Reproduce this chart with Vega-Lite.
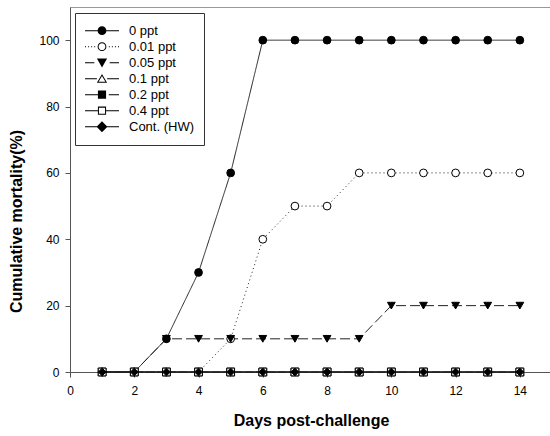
{
  "$schema": "https://vega.github.io/schema/vega-lite/v6.json",
  "autosize": "none",
  "padding": {"left": 70, "top": 7, "right": 0, "bottom": 64},
  "width": 482,
  "height": 365,
  "background": "white",
  "config": {
    "font": "Liberation Sans",
    "view": {"stroke": "#999999", "strokeWidth": 1},
    "axis": {"grid": false, "domainColor": "#555555", "tickColor": "#555555", "labelColor": "black", "titleColor": "black", "labelFont": "Liberation Sans", "titleFont": "Liberation Sans", "labelFontSize": 12, "titleFontSize": 16, "titleFontWeight": "bold", "tickSize": 5}
  },
  "data": {"values": [
    {"day":1,"group":"0 ppt","mortality":0},{"day":2,"group":"0 ppt","mortality":0},{"day":3,"group":"0 ppt","mortality":10},{"day":4,"group":"0 ppt","mortality":30},{"day":5,"group":"0 ppt","mortality":60},{"day":6,"group":"0 ppt","mortality":100},{"day":7,"group":"0 ppt","mortality":100},{"day":8,"group":"0 ppt","mortality":100},{"day":9,"group":"0 ppt","mortality":100},{"day":10,"group":"0 ppt","mortality":100},{"day":11,"group":"0 ppt","mortality":100},{"day":12,"group":"0 ppt","mortality":100},{"day":13,"group":"0 ppt","mortality":100},{"day":14,"group":"0 ppt","mortality":100},
    {"day":1,"group":"0.01 ppt","mortality":0},{"day":2,"group":"0.01 ppt","mortality":0},{"day":3,"group":"0.01 ppt","mortality":0},{"day":4,"group":"0.01 ppt","mortality":0},{"day":5,"group":"0.01 ppt","mortality":10},{"day":6,"group":"0.01 ppt","mortality":40},{"day":7,"group":"0.01 ppt","mortality":50},{"day":8,"group":"0.01 ppt","mortality":50},{"day":9,"group":"0.01 ppt","mortality":60},{"day":10,"group":"0.01 ppt","mortality":60},{"day":11,"group":"0.01 ppt","mortality":60},{"day":12,"group":"0.01 ppt","mortality":60},{"day":13,"group":"0.01 ppt","mortality":60},{"day":14,"group":"0.01 ppt","mortality":60},
    {"day":1,"group":"0.05 ppt","mortality":0},{"day":2,"group":"0.05 ppt","mortality":0},{"day":3,"group":"0.05 ppt","mortality":10},{"day":4,"group":"0.05 ppt","mortality":10},{"day":5,"group":"0.05 ppt","mortality":10},{"day":6,"group":"0.05 ppt","mortality":10},{"day":7,"group":"0.05 ppt","mortality":10},{"day":8,"group":"0.05 ppt","mortality":10},{"day":9,"group":"0.05 ppt","mortality":10},{"day":10,"group":"0.05 ppt","mortality":20},{"day":11,"group":"0.05 ppt","mortality":20},{"day":12,"group":"0.05 ppt","mortality":20},{"day":13,"group":"0.05 ppt","mortality":20},{"day":14,"group":"0.05 ppt","mortality":20},
    {"day":1,"group":"0.1 ppt","mortality":0},{"day":2,"group":"0.1 ppt","mortality":0},{"day":3,"group":"0.1 ppt","mortality":0},{"day":4,"group":"0.1 ppt","mortality":0},{"day":5,"group":"0.1 ppt","mortality":0},{"day":6,"group":"0.1 ppt","mortality":0},{"day":7,"group":"0.1 ppt","mortality":0},{"day":8,"group":"0.1 ppt","mortality":0},{"day":9,"group":"0.1 ppt","mortality":0},{"day":10,"group":"0.1 ppt","mortality":0},{"day":11,"group":"0.1 ppt","mortality":0},{"day":12,"group":"0.1 ppt","mortality":0},{"day":13,"group":"0.1 ppt","mortality":0},{"day":14,"group":"0.1 ppt","mortality":0},
    {"day":1,"group":"0.2 ppt","mortality":0},{"day":2,"group":"0.2 ppt","mortality":0},{"day":3,"group":"0.2 ppt","mortality":0},{"day":4,"group":"0.2 ppt","mortality":0},{"day":5,"group":"0.2 ppt","mortality":0},{"day":6,"group":"0.2 ppt","mortality":0},{"day":7,"group":"0.2 ppt","mortality":0},{"day":8,"group":"0.2 ppt","mortality":0},{"day":9,"group":"0.2 ppt","mortality":0},{"day":10,"group":"0.2 ppt","mortality":0},{"day":11,"group":"0.2 ppt","mortality":0},{"day":12,"group":"0.2 ppt","mortality":0},{"day":13,"group":"0.2 ppt","mortality":0},{"day":14,"group":"0.2 ppt","mortality":0},
    {"day":1,"group":"0.4 ppt","mortality":0},{"day":2,"group":"0.4 ppt","mortality":0},{"day":3,"group":"0.4 ppt","mortality":0},{"day":4,"group":"0.4 ppt","mortality":0},{"day":5,"group":"0.4 ppt","mortality":0},{"day":6,"group":"0.4 ppt","mortality":0},{"day":7,"group":"0.4 ppt","mortality":0},{"day":8,"group":"0.4 ppt","mortality":0},{"day":9,"group":"0.4 ppt","mortality":0},{"day":10,"group":"0.4 ppt","mortality":0},{"day":11,"group":"0.4 ppt","mortality":0},{"day":12,"group":"0.4 ppt","mortality":0},{"day":13,"group":"0.4 ppt","mortality":0},{"day":14,"group":"0.4 ppt","mortality":0},
    {"day":1,"group":"Cont. (HW)","mortality":0},{"day":2,"group":"Cont. (HW)","mortality":0},{"day":3,"group":"Cont. (HW)","mortality":0},{"day":4,"group":"Cont. (HW)","mortality":0},{"day":5,"group":"Cont. (HW)","mortality":0},{"day":6,"group":"Cont. (HW)","mortality":0},{"day":7,"group":"Cont. (HW)","mortality":0},{"day":8,"group":"Cont. (HW)","mortality":0},{"day":9,"group":"Cont. (HW)","mortality":0},{"day":10,"group":"Cont. (HW)","mortality":0},{"day":11,"group":"Cont. (HW)","mortality":0},{"day":12,"group":"Cont. (HW)","mortality":0},{"day":13,"group":"Cont. (HW)","mortality":0},{"day":14,"group":"Cont. (HW)","mortality":0}
  ]},
  "encoding": {
    "x": {"field": "day", "type": "quantitative", "scale": {"domain": [0, 15], "nice": false, "zero": false}, "axis": {"values": [0,2,4,6,8,10,12,14], "title": "Days post-challenge", "labelPadding": 8, "titlePadding": 16, "labelFlush": false}},
    "y": {"field": "mortality", "type": "quantitative", "scale": {"domain": [0, 110], "nice": false}, "axis": {"values": [0,20,40,60,80,100], "title": "Cumulative mortality(%)", "labelPadding": 6, "titlePadding": 14, "titleY": 214}}
  },
  "layer": [
    {
      "mark": {"type": "line", "interpolate": "linear", "color": "#222222", "strokeWidth": 1},
      "encoding": {
        "detail": {"field": "group"},
        "strokeDash": {"field": "group", "type": "nominal", "scale": {"domain": ["0 ppt","0.01 ppt","0.05 ppt","0.1 ppt","0.2 ppt","0.4 ppt","Cont. (HW)"], "range": [[1,0],[1,3],[10,4],[1,0],[8,3],[1,0],[1,0]]}, "legend": null}
      }
    },
    {
      "mark": {"type": "point", "stroke": "black", "strokeWidth": 1, "opacity": 1, "filled": false},
      "encoding": {
        "shape": {"field": "group", "type": "nominal", "scale": {"domain": ["0 ppt","0.01 ppt","0.05 ppt","0.1 ppt","0.2 ppt","0.4 ppt","Cont. (HW)"], "range": ["circle","circle","triangle-down","triangle-up","square","square","diamond"]}, "legend": null},
        "fill": {"field": "group", "type": "nominal", "scale": {"domain": ["0 ppt","0.01 ppt","0.05 ppt","0.1 ppt","0.2 ppt","0.4 ppt","Cont. (HW)"], "range": ["black","white","black","white","black","white","black"]}, "legend": null},
        "size": {"value": 60}
      }
    },
    {
      "transform": [{"filter": "datum.day < 0"}],
      "mark": {"type": "point", "filled": true, "color": "black", "opacity": 1},
      "encoding": {
        "shape": {"field": "group", "type": "nominal", "title": null,
          "scale": {"domain": ["0 ppt","0.01 ppt","0.05 ppt","0.1 ppt","0.2 ppt","0.4 ppt","Cont. (HW)"],
            "range": [
              "M-1,-0.03H-0.26V0.03H-1ZM0.26,-0.03H1V0.03H0.26ZM-0.26,0a0.26,0.26 0 1,0 0.52,0a0.26,0.26 0 1,0 -0.52,0Z",
              "M-1,-0.03h0.06v0.06h-0.06ZM-0.82,-0.03h0.06v0.06h-0.06ZM-0.64,-0.03h0.06v0.06h-0.06ZM-0.46,-0.03h0.06v0.06h-0.06ZM0.4,-0.03h0.06v0.06h-0.06ZM0.58,-0.03h0.06v0.06h-0.06ZM0.76,-0.03h0.06v0.06h-0.06ZM0.94,-0.03h0.06v0.06h-0.06ZM-0.26,0a0.26,0.26 0 1,0 0.52,0a0.26,0.26 0 1,0 -0.52,0ZM-0.2,0a0.2,0.2 0 1,1 0.4,0a0.2,0.2 0 1,1 -0.4,0Z",
              "M-1,-0.03H-0.45V0.03H-1ZM0.45,-0.03H1V0.03H0.45ZM-0.3,-0.24L0.3,-0.24L0,0.28Z",
              "M-1,-0.03H-0.3V0.03H-1ZM0.3,-0.03H1V0.03H0.3ZM-0.3,0.24L0.3,0.24L0,-0.28ZM-0.2,0.18L0,-0.16L0.2,0.18Z",
              "M-1,-0.03H-0.24V0.03H-1ZM0.4,-0.03H1V0.03H0.4ZM-0.24,-0.24H0.24V0.24H-0.24Z",
              "M-1,-0.03H-0.24V0.03H-1ZM0.24,-0.03H1V0.03H0.24ZM-0.24,-0.24H0.24V0.24H-0.24ZM-0.18,-0.18V0.18H0.18V-0.18Z",
              "M-1,-0.03H-0.3V0.03H-1ZM0.3,-0.03H1V0.03H0.3ZM0,-0.32L0.32,0L0,0.32L-0.32,0Z"
            ]},
          "legend": {"orient": "none", "legendX": 5, "legendY": 6, "symbolSize": 1156, "symbolOpacity": 1, "symbolFillColor": "black", "symbolStrokeColor": "transparent", "symbolStrokeWidth": 0, "labelFont": "Liberation Sans", "labelFontSize": 13, "labelColor": "black", "strokeColor": "#333333", "fillColor": "white", "padding": 10, "labelOffset": 10, "rowPadding": 0, "clipHeight": 15.4}}
      }
    }
  ],
  "resolve": {"scale": {"shape": "independent"}}
}
